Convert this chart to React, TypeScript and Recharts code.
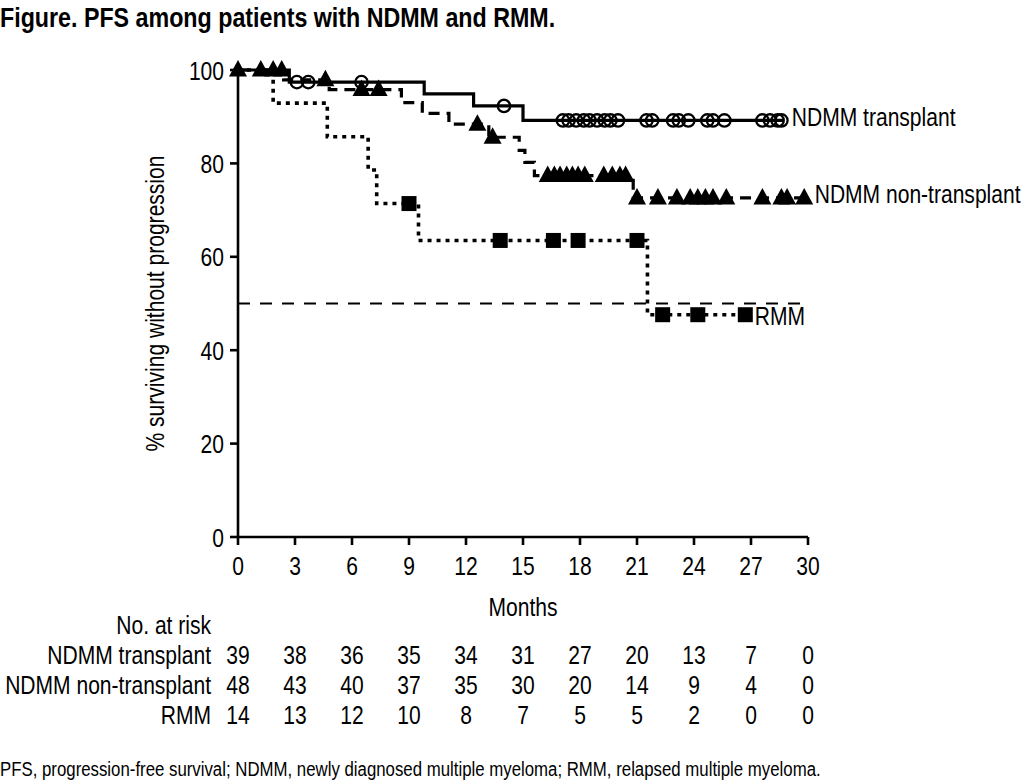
import React from "react";
import {
  ComposedChart,
  Line,
  Scatter,
  XAxis,
  YAxis,
  ReferenceLine,
  Label,
} from "recharts";

// Liberation Sans squeezed horizontally stands in for the narrow font of the original
const FONT = '"Liberation Sans", Arial, sans-serif';
const SX = 0.81;
const FS = 26;

// x ticks (months) and y ticks (%)
const monthTicks = [0, 3, 6, 9, 12, 15, 18, 21, 24, 27, 30];
const pctTicks = [0, 20, 40, 60, 80, 100];

// Kaplan-Meier steps: [month, % surviving]
const transplantSteps = [
  [0, 100], [2.7, 97.4], [9.8, 94.9], [12.4, 92.3], [15.0, 89.2], [28.7, 89.2],
];
const nonTransplantSteps = [
  [0, 100], [2.4, 97.9], [4.8, 95.8], [8.6, 93.0], [9.7, 90.7], [11.1, 88.4],
  [13.2, 85.6], [14.8, 82.8], [15.1, 80.2], [15.6, 77.4], [20.8, 72.6], [29.8, 72.6],
];
const rmmSteps = [
  [0, 100], [1.85, 92.9], [4.7, 85.7], [6.85, 78.6], [7.3, 71.4], [9.5, 63.5],
  [21.55, 47.6], [26.7, 47.6],
];

// censored times (months)
const transplantCensor = [
  3.1, 3.7, 6.5, 14.0, 17.1, 17.4, 17.8, 18.2, 18.5, 18.9, 19.3, 19.6, 20.0,
  21.5, 21.8, 22.9, 23.2, 23.7, 24.7, 25.0, 25.6, 27.6, 28.0, 28.4, 28.6,
];
const nonTransplantCensor = [
  0, 1.2, 1.85, 2.3, 4.6, 6.5, 7.4, 12.6, 13.4,
  16.3, 16.65, 16.95, 17.3, 17.6, 17.9, 18.25, 19.25, 19.7, 20.1, 20.4,
  21.0, 22.1, 23.1, 23.8, 24.2, 24.6, 25.0, 25.7, 27.6, 28.6, 28.9, 29.8,
];
const rmmCensor = [9.0, 13.8, 16.6, 17.9, 21.0, 22.35, 24.2, 26.7];

// number at risk
const riskTransplant = [39, 38, 36, 35, 34, 31, 27, 20, 13, 7, 0];
const riskNonTransplant = [48, 43, 40, 37, 35, 30, 20, 14, 9, 4, 0];
const riskRmm = [14, 13, 12, 10, 8, 7, 5, 5, 2, 0, 0];

const toRows = (steps: number[][]) => steps.map(([t, s]) => ({ t, s }));
const valueAt = (steps: number[][], t: number) => {
  let v = steps[0][1];
  for (const [st, s] of steps) if (st <= t) v = s;
  return v;
};
const censorRows = (steps: number[][], times: number[]) =>
  times.map((t) => ({ t, s: valueAt(steps, t) }));

// narrow text
const NText = ({ x, y, anchor = "start", rotate = 0, size = FS, children }: any) => (
  <text
    transform={`translate(${x} ${y}) rotate(${rotate}) scale(${SX} 1)`}
    textAnchor={anchor}
    fontFamily={FONT}
    fontSize={size}
    fill="#000"
  >
    {children}
  </text>
);

const Circle = (p: any) => (
  <circle cx={p.cx} cy={p.cy} r={6.2} fill="none" stroke="#000" strokeWidth={2.3} />
);
const Triangle = (p: any) => (
  <path
    d={`M${p.cx},${p.cy - 10} L${p.cx + 9},${p.cy + 6.5} L${p.cx - 9},${p.cy + 6.5} Z`}
    fill="#000"
  />
);
const Square = (p: any) => (
  <rect x={p.cx - 7.5} y={p.cy - 7.5} width={15} height={15} fill="#000" />
);
const Nothing = () => null;

const riskAxis = (id: string, values: number[], name: string) => (
  <XAxis
    key={id}
    xAxisId={id}
    type="number"
    dataKey="t"
    domain={[0, 30]}
    allowDataOverflow
    ticks={monthTicks}
    axisLine={false}
    tickLine={false}
    tickSize={0}
    tickMargin={0}
    height={30}
    tick={(p: any) => (
      <NText x={p.x} y={p.y + 27} anchor="middle">
        {values[Math.round(p.payload.value / 3)]}
      </NText>
    )}
  >
    <Label
      content={({ viewBox }: any) => (
        <NText x={211} y={viewBox.y + 27} anchor="end">
          {name}
        </NText>
      )}
    />
  </XAxis>
);

const riskAnchor = (id: string) => (
  <Scatter
    key={"s" + id}
    xAxisId={id}
    data={monthTicks.map((t) => ({ t, s: 0 }))}
    shape={Nothing}
    isAnimationActive={false}
  />
);

export default function App() {
  const lastT = transplantSteps[transplantSteps.length - 1];
  const lastN = nonTransplantSteps[nonTransplantSteps.length - 1];
  const lastR = rmmSteps[rmmSteps.length - 1];
  return (
    <div
      style={{
        position: "absolute",
        left: 0,
        top: 0,
        width: 1024,
        height: 782,
        background: "#fff",
        fontFamily: FONT,
        color: "#000",
      }}
    >
      <div
        style={{
          position: "absolute",
          left: 0,
          top: 2,
          fontSize: 28,
          fontWeight: "bold",
          whiteSpace: "nowrap",
          transform: `scaleX(0.83)`,
          transformOrigin: "left top",
        }}
      >
        Figure. PFS among patients with NDMM and RMM.
      </div>
      <ComposedChart
        width={1024}
        height={740}
        margin={{ top: 70, right: 216, left: 138, bottom: 13 }}
        style={{ position: "absolute", left: 0, top: 0 }}
      >
        <XAxis
          xAxisId="main"
          type="number"
          dataKey="t"
          domain={[0, 30]}
          ticks={monthTicks}
          axisLine={{ stroke: "#000", strokeWidth: 2.6 }}
          tickLine={{ stroke: "#000", strokeWidth: 2.6 }}
          tickSize={8}
          tickMargin={4}
          height={100}
          tick={(p: any) => (
            <NText x={p.x} y={p.y + 26} anchor="middle">
              {p.payload.value}
            </NText>
          )}
        >
          <Label
            content={({ viewBox }: any) => (
              <g>
                <NText x={viewBox.x + viewBox.width / 2} y={viewBox.y + 79} anchor="middle">
                  Months
                </NText>
                <NText x={211} y={viewBox.y + 97} anchor="end">
                  No. at risk
                </NText>
              </g>
            )}
          />
        </XAxis>
        {riskAxis("r1", riskTransplant, "NDMM transplant")}
        {riskAxis("r2", riskNonTransplant, "NDMM non-transplant")}
        {riskAxis("r3", riskRmm, "RMM")}
        <YAxis
          type="number"
          dataKey="s"
          domain={[0, 100]}
          ticks={pctTicks}
          width={100}
          axisLine={{ stroke: "#000", strokeWidth: 2.6 }}
          tickLine={{ stroke: "#000", strokeWidth: 2.6 }}
          tickSize={8}
          tickMargin={6}
          tick={(p: any) => (
            <NText x={p.x} y={p.y + 9.5} anchor="end">
              {p.payload.value}
            </NText>
          )}
        >
          <Label
            content={({ viewBox }: any) => (
              <NText
                x={viewBox.x + 26}
                y={viewBox.y + viewBox.height / 2}
                rotate={-90}
                anchor="middle"
              >
                % surviving without progression
              </NText>
            )}
          />
        </YAxis>
        <ReferenceLine
          xAxisId="main"
          y={50}
          stroke="#000"
          strokeWidth={2}
          strokeDasharray="12 10"
        />
        <Line
          xAxisId="main"
          data={toRows(rmmSteps)}
          dataKey="s"
          type="stepAfter"
          stroke="#000"
          strokeWidth={3.6}
          strokeDasharray="4 5"
          dot={false}
          isAnimationActive={false}
        />
        <Line
          xAxisId="main"
          data={toRows(nonTransplantSteps)}
          dataKey="s"
          type="stepAfter"
          stroke="#000"
          strokeWidth={3.2}
          strokeDasharray="11 7"
          dot={false}
          isAnimationActive={false}
        />
        <Line
          xAxisId="main"
          data={toRows(transplantSteps)}
          dataKey="s"
          type="stepAfter"
          stroke="#000"
          strokeWidth={3.2}
          dot={false}
          isAnimationActive={false}
        />
        <Scatter
          xAxisId="main"
          data={censorRows(transplantSteps, transplantCensor)}
          shape={Circle}
          isAnimationActive={false}
        />
        <Scatter
          xAxisId="main"
          data={censorRows(nonTransplantSteps, nonTransplantCensor)}
          shape={Triangle}
          isAnimationActive={false}
        />
        <Scatter
          xAxisId="main"
          data={censorRows(rmmSteps, rmmCensor)}
          shape={Square}
          isAnimationActive={false}
        />
        <Scatter
          xAxisId="main"
          data={[{ t: lastT[0], s: lastT[1] }]}
          shape={Nothing}
          isAnimationActive={false}
          label={{ content: (p: any) => <NText x={p.x + 13} y={p.y + 10}>NDMM transplant</NText> }}
        />
        <Scatter
          xAxisId="main"
          data={[{ t: lastN[0], s: lastN[1] }]}
          shape={Nothing}
          isAnimationActive={false}
          label={{ content: (p: any) => <NText x={p.x + 15} y={p.y + 10}>NDMM non-transplant</NText> }}
        />
        <Scatter
          xAxisId="main"
          data={[{ t: lastR[0], s: lastR[1] }]}
          shape={Nothing}
          isAnimationActive={false}
          label={{ content: (p: any) => <NText x={p.x + 14} y={p.y + 15}>RMM</NText> }}
        />
        {riskAnchor("r1")}
        {riskAnchor("r2")}
        {riskAnchor("r3")}
      </ComposedChart>
      <div
        style={{
          position: "absolute",
          left: 0,
          top: 758,
          fontSize: 20,
          whiteSpace: "nowrap",
          transform: `scaleX(0.84)`,
          transformOrigin: "left top",
        }}
      >
        PFS, progression-free survival; NDMM, newly diagnosed multiple myeloma; RMM, relapsed multiple myeloma.
      </div>
    </div>
  );
}
